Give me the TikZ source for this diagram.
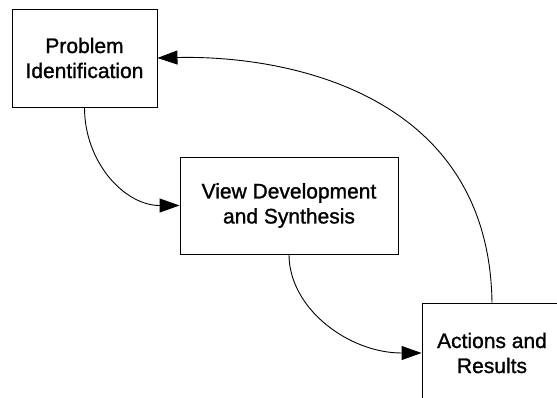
\documentclass[tikz,border=0pt]{standalone}
\usepackage{fontspec}
\setmainfont{Liberation Sans}
\newfontfamily\labelfont[FakeBold=1.2]{Liberation Sans}
\usetikzlibrary{arrows.meta}
\tikzset{
  stagebox/.style={draw=black, line width=0.9pt, fill=white, align=center,
    inner sep=0pt, font=\labelfont\fontsize{21}{25}\selectfont},
  flow/.style={draw=black, line width=0.9pt,
    -{Triangle[length=20pt,width=14pt]}}
}
\begin{document}
\begin{tikzpicture}[x=1pt, y=-1pt]
  \useasboundingbox (0,0) rectangle (557,397);
  \clip (0,0) rectangle (557,397);

  % the three stages of the cycle
  \node[stagebox, minimum width=145pt, minimum height=98pt] (prob) at (84.5,58)
    {Problem\\Identification};
  \node[stagebox, minimum width=218pt, minimum height=97pt] (view) at (289,205.5)
    {View Development\\and Synthesis};
  \node[stagebox, minimum width=140pt, minimum height=100pt] (act) at (492,353)
    {Actions and\\Results};

  % forward steps
  \draw[flow] (prob.south) .. controls +(0,55) and +(-55,0) .. (view.west);
  \draw[flow] (view.south) .. controls +(0,54) and +(-73,0) .. (act.west);

  % feedback loop back to the start
  \draw[flow] (act.north) .. controls +(-3,-213) and +(123,-3) .. (prob.east);
\end{tikzpicture}
\end{document}
